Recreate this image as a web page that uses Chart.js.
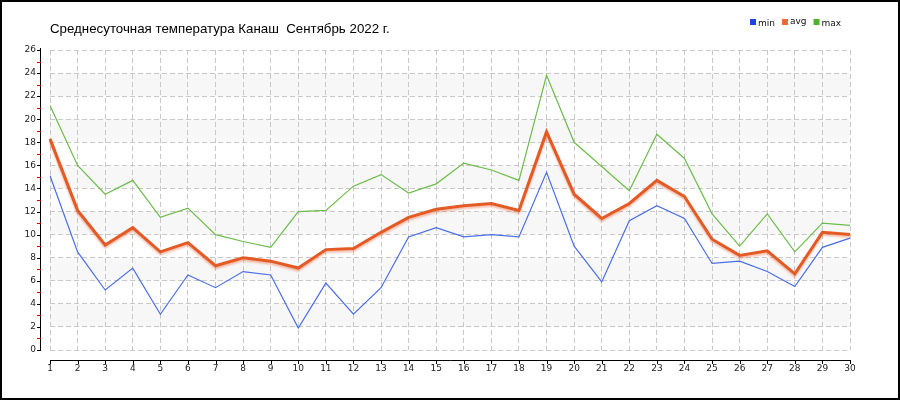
<!DOCTYPE html>
<html>
<head>
<meta charset="utf-8">
<script src="https://cdn.jsdelivr.net/npm/chart.js@4"></script>
<style>
  html, body { margin: 0; padding: 0; background: #fff; }
  #wrap { width: 900px; height: 400px; }
</style>
</head>
<body>
<div id="wrap"><canvas id="tempChart" width="900" height="400"></canvas></div>
<script>
// Chart data
const titleText = 'Среднесуточная температура Канаш  Сентябрь 2022 г.';
const days = ['1','2','3','4','5','6','7','8','9','10','11','12','13','14','15',
              '16','17','18','19','20','21','22','23','24','25','26','27','28','29','30'];
const minTemps = [15.1, 8.5, 5.2, 7.1, 3.1, 6.5, 5.4, 6.8, 6.5, 1.9, 5.8, 3.1, 5.4, 9.8, 10.6,
                  9.8, 10.0, 9.8, 15.4, 9.0, 5.9, 11.2, 12.5, 11.4, 7.5, 7.7, 6.8, 5.5, 8.9, 9.7];
const avgTemps = [18.3, 12.1, 9.1, 10.6, 8.5, 9.3, 7.3, 8.0, 7.7, 7.1, 8.7, 8.8, 10.2, 11.5, 12.2,
                  12.5, 12.7, 12.1, 18.9, 13.5, 11.4, 12.7, 14.7, 13.3, 9.6, 8.2, 8.6, 6.6, 10.2, 10.0];
const maxTemps = [21.2, 16.0, 13.5, 14.7, 11.5, 12.3, 10.0, 9.4, 8.9, 12.0, 12.1, 14.2, 15.2, 13.6, 14.4,
                  16.2, 15.6, 14.7, 23.8, 18.0, 15.9, 13.8, 18.7, 16.6, 11.8, 9.0, 11.8, 8.5, 11.0, 10.8];
const yTicks = { min: 0, max: 26, step: 2 };
const bandRanges = [[2, 4], [6, 8], [10, 12], [14, 16], [18, 20], [22, 24]];

// Background bands, frame, offset axes, title and legend
const decorPlugin = {
  id: 'decor',
  beforeDraw(chart) {
    const { ctx, chartArea, scales } = chart;
    ctx.save();
    ctx.fillStyle = '#fff';
    ctx.fillRect(0, 0, chart.width, chart.height);
    ctx.fillStyle = '#f7f7f7';
    bandRanges.forEach(([a, b]) => {
      const y1 = scales.y.getPixelForValue(b);
      const y2 = scales.y.getPixelForValue(a);
      ctx.fillRect(chartArea.left, y1, chartArea.right - chartArea.left, y2 - y1);
    });
    ctx.restore();
  },
  afterDraw(chart) {
    const { ctx, chartArea, scales } = chart;
    ctx.save();
    // frame
    ctx.strokeStyle = '#000';
    ctx.lineWidth = 2;
    ctx.strokeRect(1, 1, chart.width - 2, chart.height - 2);

    // y axis (offset 10px left)
    const ax = chartArea.left - 10;
    ctx.lineWidth = 1;
    ctx.beginPath();
    ctx.moveTo(ax + 0.5, scales.y.getPixelForValue(yTicks.max) - 2);
    ctx.lineTo(ax + 0.5, scales.y.getPixelForValue(yTicks.min) + 1);
    ctx.stroke();
    for (let v = yTicks.min; v <= yTicks.max; v++) {
      const y = Math.round(scales.y.getPixelForValue(v)) + 0.5;
      ctx.strokeStyle = v % 2 === 0 ? '#000' : '#e00000';
      ctx.beginPath();
      ctx.moveTo(ax - 3, y);
      ctx.lineTo(ax + 1, y);
      ctx.stroke();
    }

    // x axis (offset 10px down)
    const ay = chartArea.bottom + 10;
    ctx.strokeStyle = '#000';
    ctx.beginPath();
    ctx.moveTo(scales.x.getPixelForValue(0), ay + 0.5);
    ctx.lineTo(scales.x.getPixelForValue(days.length - 1) + 1, ay + 0.5);
    ctx.stroke();
    days.forEach((d, i) => {
      const x = Math.round(scales.x.getPixelForValue(i)) + 0.5;
      ctx.beginPath();
      ctx.moveTo(x, ay);
      ctx.lineTo(x, ay + 4);
      ctx.stroke();
    });

    // title
    ctx.fillStyle = '#000';
    ctx.font = '13.3px "Liberation Sans", Arial, sans-serif';
    ctx.textBaseline = 'alphabetic';
    ctx.textAlign = 'left';
    ctx.fillText(titleText, 50, 33);

    // legend
    ctx.font = '9px "DejaVu Sans", Verdana, sans-serif';
    let lx = 750;
    chart.data.datasets.forEach(ds => {
      ctx.fillStyle = ds.legendColor;
      ctx.fillRect(lx, 19, 6, 6);
      ctx.fillStyle = '#111';
      ctx.fillText(ds.label, lx + 8, ds.label === 'avg' ? 24 : 26);
      lx += 8 + ctx.measureText(ds.label).width + 7;
    });
    ctx.restore();
  }
};

// light shadow under avg line
const shadowPlugin = {
  id: 'avgShadow',
  beforeDatasetDraw(chart, args) {
    if (args.index === 1) {
      chart.ctx.save();
      chart.ctx.shadowColor = 'rgba(235, 110, 70, 0.45)';
      chart.ctx.shadowOffsetY = 2;
      chart.ctx.shadowBlur = 2;
    }
  },
  afterDatasetDraw(chart, args) {
    if (args.index === 1) chart.ctx.restore();
  }
};

const gridDash = [5, 3];

const ctx = document.getElementById('tempChart').getContext('2d');
new Chart(ctx, {
  type: 'line',
  data: {
    labels: days,
    datasets: [
      { label: 'min', data: minTemps, borderColor: '#4a6ee6', legendColor: '#1f45e0',
        borderWidth: 1.2, pointRadius: 0, tension: 0, order: 3 },
      { label: 'avg', data: avgTemps, borderColor: '#e35a25', legendColor: '#ee6a30',
        borderWidth: 3, pointRadius: 0, tension: 0, order: 1 },
      { label: 'max', data: maxTemps, borderColor: '#6dbb4a', legendColor: '#4ab528',
        borderWidth: 1.2, pointRadius: 0, tension: 0, order: 2 }
    ]
  },
  options: {
    responsive: false,
    animation: false,
    devicePixelRatio: 1,
    layout: { padding: { left: 0, top: 50, right: 50, bottom: 0 } },
    plugins: {
      legend: { display: false },
      title: { display: false },
      tooltip: { enabled: false }
    },
    scales: {
      x: {
        type: 'category',
        offset: false,
        afterFit(scale) { scale.height = 50; },
        grid: { color: '#c8c8c8', drawTicks: false, borderDash: gridDash },
        border: { display: false, dash: gridDash },
        ticks: {
          padding: 13, autoSkip: false, maxRotation: 0,
          color: '#222', font: { family: '"DejaVu Sans", Verdana, sans-serif', size: 9 }
        }
      },
      y: {
        min: yTicks.min,
        max: yTicks.max,
        afterFit(scale) { scale.width = 50; },
        grid: { color: '#c8c8c8', drawTicks: false, borderDash: gridDash },
        border: { display: false, dash: gridDash },
        ticks: {
          stepSize: yTicks.step, padding: 14,
          color: '#222', font: { family: '"DejaVu Sans", Verdana, sans-serif', size: 9 }
        }
      }
    }
  },
  plugins: [decorPlugin, shadowPlugin]
});
</script>
</body>
</html>
